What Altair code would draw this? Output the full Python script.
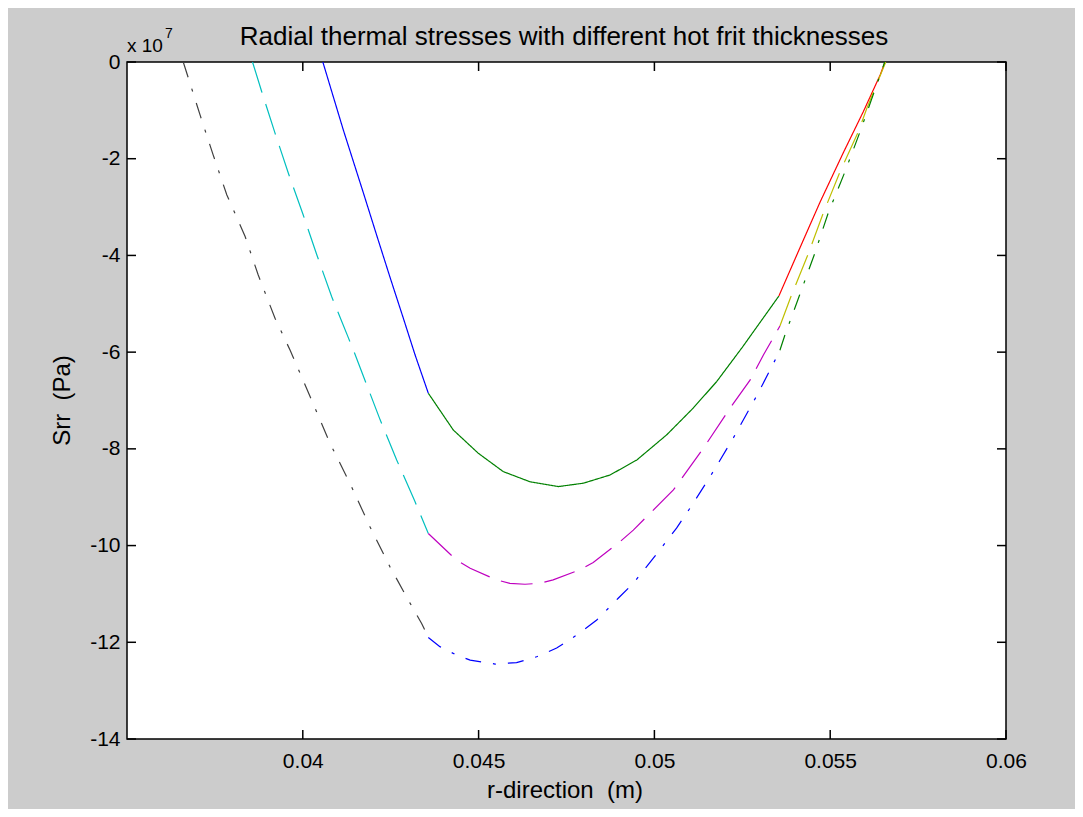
import altair as alt
import pandas as pd

# ---- data (r in m, Srr in units of 1e7 Pa) ----
# curve 1 (solid): inner / hot frit / outer
r1_in = [0.04057, 0.04115, 0.04172, 0.04210, 0.04248, 0.04286, 0.04319, 0.04357]
s1_in = [0.0, -1.40, -2.70, -3.58, -4.45, -5.30, -6.05, -6.85]
r1_mid = [0.04357, 0.04428, 0.04499, 0.04570, 0.04646, 0.04727, 0.04798, 0.04874, 0.04950, 0.05035, 0.05110, 0.05177, 0.05250, 0.05354]
s1_mid = [-6.85, -7.61, -8.09, -8.47, -8.68, -8.78, -8.71, -8.54, -8.23, -7.71, -7.16, -6.61, -5.90, -4.84]
r1_out = [0.05354, 0.05405, 0.05471, 0.05537, 0.05594, 0.05642, 0.05656]
s1_out = [-4.84, -3.99, -2.90, -1.88, -1.03, -0.27, 0.0]

# curve 2 (dashed)
r2_in = [0.03857, 0.03883, 0.03921, 0.03959, 0.04001, 0.04040, 0.04082, 0.04130, 0.04144, 0.04220, 0.04267, 0.04319, 0.04357]
s2_in = [0.0, -0.61, -1.47, -2.30, -3.16, -3.99, -4.85, -5.71, -5.96, -7.40, -8.23, -9.09, -9.75]
r2_mid = [0.04357, 0.04437, 0.04476, 0.04551, 0.04589, 0.04632, 0.04675, 0.04712, 0.04788, 0.04826, 0.04902, 0.04940, 0.05054, 0.05139, 0.05215, 0.05272, 0.05310, 0.05357]
s2_mid = [-9.75, -10.30, -10.47, -10.71, -10.78, -10.80, -10.78, -10.71, -10.50, -10.35, -9.92, -9.68, -8.85, -7.99, -7.16, -6.58, -6.06, -5.46]
r2_out = [0.05357, 0.05390, 0.05438, 0.05480, 0.05528, 0.05580, 0.05604, 0.05658]
s2_out = [-5.46, -4.82, -3.96, -3.13, -2.27, -1.44, -0.96, 0.0]

# curve 3 (dash-dot)
r3_in = [0.03660, 0.03708, 0.03745, 0.03784, 0.03836, 0.03873, 0.03921, 0.03964, 0.04025, 0.04077, 0.04134, 0.04191, 0.04248, 0.04305, 0.04338, 0.04357]
s3_in = [0.0, -1.10, -1.92, -2.75, -3.61, -4.40, -5.30, -5.96, -6.99, -7.88, -8.71, -9.61, -10.44, -11.19, -11.61, -11.90]
r3_mid = [0.04357, 0.04390, 0.04428, 0.04476, 0.04547, 0.04608, 0.04665, 0.04722, 0.04779, 0.04836, 0.04897, 0.04940, 0.04997, 0.05063, 0.05110, 0.05158, 0.05187, 0.05224, 0.05295, 0.05338, 0.05357]
s3_mid = [-11.90, -12.09, -12.23, -12.37, -12.45, -12.42, -12.30, -12.12, -11.85, -11.54, -11.09, -10.78, -10.26, -9.64, -9.13, -8.58, -8.23, -7.78, -6.85, -6.24, -5.96]
r3_out = [0.05357, 0.05371, 0.05413, 0.05456, 0.05494, 0.05542, 0.05585, 0.05627, 0.05655]
s3_out = [-5.96, -5.65, -4.82, -3.96, -3.13, -2.27, -1.44, -0.58, 0.0]

x_ticks = [0.04, 0.045, 0.05, 0.055, 0.06]
y_ticks = [0, -2, -4, -6, -8, -10, -12, -14]

seg_names = ["c1_in", "c1_mid", "c1_out", "c2_in", "c2_mid", "c2_out", "c3_in", "c3_mid", "c3_out"]
seg_r = [r1_in, r1_mid, r1_out, r2_in, r2_mid, r2_out, r3_in, r3_mid, r3_out]
seg_s = [s1_in, s1_mid, s1_out, s2_in, s2_mid, s2_out, s3_in, s3_mid, s3_out]
seg_colors = ["#0000FF", "#008000", "#FF0000", "#00BFBF", "#BF00BF", "#BFBF00", "#404040", "#0000FF", "#008000"]
SOLID, DASH, DASHDOT = [1, 0], [32, 12], [16, 12, 3, 12]
seg_dashes = [SOLID, SOLID, SOLID, DASH, DASH, DASH, DASHDOT, DASHDOT, DASHDOT]

rows = []
for name, rs, ss in zip(seg_names, seg_r, seg_s):
    for i, (r, s) in enumerate(zip(rs, ss)):
        rows.append({"seg": name, "r": r, "srr": s, "i": i})
df = pd.DataFrame(rows)

FONT = "Liberation Sans"
W, H = 879, 677

xscale = alt.Scale(domain=[0.035, 0.06], nice=False, zero=False)
yscale = alt.Scale(domain=[-14, 0], nice=False, zero=False)

X = alt.X("r:Q", scale=xscale, axis=alt.Axis(
    values=x_ticks, labelExpr="'' + datum.value", title=None, ticks=False, tickSize=0,
    domain=False, grid=False, labelFont=FONT, labelFontSize=21, labelColor="black",
    labelPadding=11, labelBaseline="top", labelFlush=False, labelOverlap=False, labelBound=False))
Y = alt.Y("srr:Q", scale=yscale, axis=alt.Axis(
    values=y_ticks, labelExpr="'' + datum.value", title=None, ticks=False, tickSize=0,
    domain=False, grid=False, labelFont=FONT, labelFontSize=21, labelColor="black",
    labelPadding=7, labelBaseline="middle", labelFlush=False, labelOverlap=False, labelBound=False))

lines = alt.Chart(df).mark_line(strokeWidth=1.2, clip=True).encode(
    x=X, y=Y,
    color=alt.Color("seg:N", scale=alt.Scale(domain=seg_names, range=seg_colors), legend=None),
    strokeDash=alt.StrokeDash("seg:N", scale=alt.Scale(domain=seg_names, range=seg_dashes), legend=None),
    order=alt.Order("i:Q"),
)

xt = pd.DataFrame({"r": x_ticks})
yt = pd.DataFrame({"srr": y_ticks})
TL = 9
tick_style = dict(color="black", strokeWidth=1.5)
xt_bot = alt.Chart(xt).mark_rule(**tick_style).encode(x=X, y=alt.value(H), y2=alt.value(H - TL))
xt_top = alt.Chart(xt).mark_rule(**tick_style).encode(x=X, y=alt.value(0), y2=alt.value(TL))
yt_left = alt.Chart(yt).mark_rule(**tick_style).encode(y=Y, x=alt.value(0), x2=alt.value(TL))
yt_right = alt.Chart(yt).mark_rule(**tick_style).encode(y=Y, x=alt.value(W), x2=alt.value(W - TL))


def label(text, x, y, size, align="center", baseline="alphabetic", angle=0):
    kw = dict(font=FONT, fontSize=size, align=align, baseline=baseline, color="black")
    if angle:
        kw["angle"] = angle
    return alt.Chart(pd.DataFrame({"t": [text]})).mark_text(**kw).encode(
        text="t:N", x=alt.value(x), y=alt.value(y))


NB = "\u00a0"
title = label("Radial thermal stresses with different hot frit thicknesses", 437, -17, 26)
xtitle = label("r-direction " + NB + "(m)", 438, 736, 24)
ytitle = label("Srr " + NB + "(Pa)", -64, H / 2, 24, baseline="middle", angle=270)
exp_base = label("x 10", 0, -10, 19, align="left")
exp_sup = label("7", 38, -24, 14, align="left")

chart = alt.layer(
    lines, xt_bot, xt_top, yt_left, yt_right, title, xtitle, ytitle, exp_base, exp_sup
).properties(
    width=W, height=H,
    padding={"left": 119, "top": 54, "right": 69, "bottom": 70},
    autosize=alt.AutoSizeParams(type="none"),
).configure(background="#CCCCCC").configure_view(stroke="black", strokeWidth=1.5, fill="white")

chart.save("out.html", embed_options={"renderer": "svg", "actions": False})
